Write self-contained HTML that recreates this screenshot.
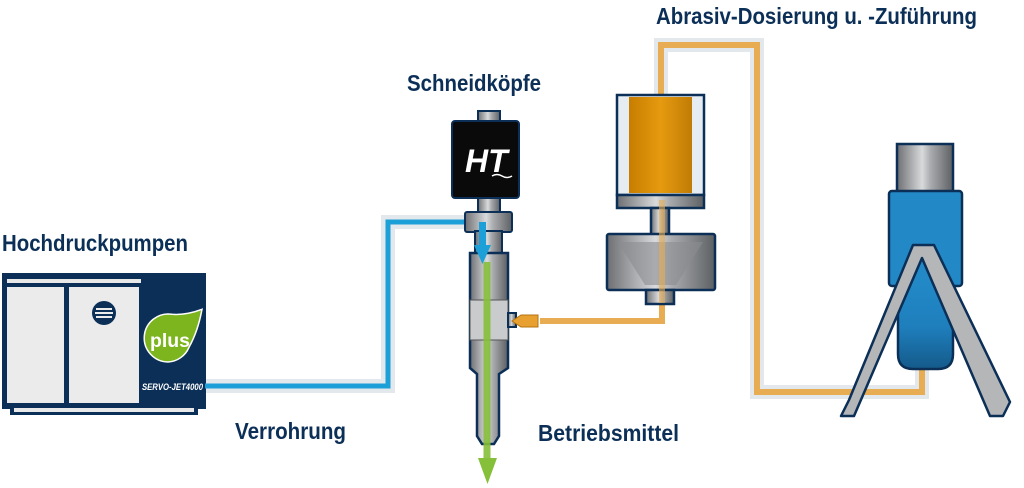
<!DOCTYPE html>
<html><head><meta charset="utf-8"><style>
html,body{margin:0;padding:0;background:#fff;width:1024px;height:488px;overflow:hidden}
svg{display:block}
text{font-family:"Liberation Sans",sans-serif;font-weight:bold;fill:#0b2f57}
</style></head><body>
<svg width="1024" height="488" viewBox="0 0 1024 488">
<defs>
<linearGradient id="met" x1="0" x2="1"><stop offset="0" stop-color="#6d6f72"/><stop offset=".45" stop-color="#d8dadc"/><stop offset=".6" stop-color="#a9abae"/><stop offset="1" stop-color="#5d6063"/></linearGradient>
<linearGradient id="org" x1="0" x2="1"><stop offset="0" stop-color="#c77d00"/><stop offset=".5" stop-color="#e69a10"/><stop offset="1" stop-color="#c07c05"/></linearGradient>
<linearGradient id="blu" x1="0" y1="0" x2="0" y2="1"><stop offset="0" stop-color="#2288c6"/><stop offset=".5" stop-color="#1f7fbd"/><stop offset="1" stop-color="#145a8a"/></linearGradient>
</defs>
<!-- labels -->
<text x="2" y="251" font-size="23" textLength="186" lengthAdjust="spacingAndGlyphs">Hochdruckpumpen</text>
<text x="407" y="91" font-size="23" textLength="134" lengthAdjust="spacingAndGlyphs">Schneidköpfe</text>
<text x="656" y="24" font-size="23" textLength="321" lengthAdjust="spacingAndGlyphs">Abrasiv-Dosierung u. -Zuführung</text>
<text x="235" y="439" font-size="23" textLength="111" lengthAdjust="spacingAndGlyphs">Verrohrung</text>
<text x="538" y="441" font-size="23" textLength="141" lengthAdjust="spacingAndGlyphs">Betriebsmittel</text>

<!-- abrasive pipe halo + line -->
<polyline points="661,95 661,45 757,45 757,392 922,392 922,368" fill="none" stroke="#e2e8ec" stroke-width="14"/>
<polyline points="661,95 661,45 757,45 757,392 922,392 922,368" fill="none" stroke="#e8ad52" stroke-width="6"/>
<!-- water pipe -->
<polyline points="205,386 388,386 388,222 484,222" fill="none" stroke="#e2e8ec" stroke-width="14"/>

<!-- pump -->
<rect x="2" y="273" width="204" height="136" fill="#0b2f57"/>
<rect x="10" y="405" width="188" height="10" fill="#0b2f57"/>
<rect x="14" y="408" width="180" height="4" fill="#e8e8e8"/>
<rect x="7" y="279" width="134" height="4" fill="#e8e8e8"/>
<rect x="7" y="287" width="57" height="116" fill="#ebebeb"/>
<rect x="69" y="287" width="70" height="116" fill="#ebebeb"/>
<circle cx="104" cy="313" r="12" fill="#0b2f57"/>
<rect x="96" y="308" width="16" height="2" fill="#ebebeb"/><rect x="95" y="312" width="18" height="2" fill="#ebebeb"/><rect x="96" y="316" width="16" height="2" fill="#ebebeb"/>
<path d="M168,362 a24,24 0 1 1 4,-47.7 q14,1 30,-5 q-4,22 -13,38 a24,24 0 0 1 -21,14.7z" fill="#7db51e" stroke="#fff" stroke-width="1.5"/>
<text x="150" y="347" font-size="19" textLength="40" lengthAdjust="spacingAndGlyphs" style="fill:#fff">plus</text>
<text x="142" y="390" font-size="9" textLength="61" lengthAdjust="spacingAndGlyphs" style="fill:#fff;font-style:italic">SERVO-JET4000</text>
<polyline points="205,386 388,386 388,222 482,222 482,248" fill="none" stroke="#1da0d8" stroke-width="5"/>

<!-- cutting head -->
<rect x="478" y="111" width="22" height="12" fill="url(#met)" stroke="#0b2f57" stroke-width="2"/>
<rect x="452" y="121" width="67" height="77" rx="3" fill="#0a0a0a" stroke="#0b2f57" stroke-width="2"/>
<text x="465" y="172" font-size="32" style="fill:#fff;font-style:italic">HT</text>
<path d="M492,176 q5,-3 10,0 t10,0" stroke="#fff" fill="none" stroke-width="1.5"/>
<rect x="478" y="198" width="22" height="15" fill="url(#met)" stroke="#0b2f57" stroke-width="2"/>
<rect x="465" y="212" width="47" height="20" rx="2" fill="url(#met)" stroke="#0b2f57" stroke-width="2"/>
<rect x="475" y="231" width="27" height="22" fill="url(#met)" stroke="#0b2f57" stroke-width="2"/>
<path d="M470,253 h38 v115 l-9,6 v62 l-5,8 h-12 l-5,-8 v-62 l-7,-6z" fill="url(#met)" stroke="#0b2f57" stroke-width="2.5"/>
<rect x="470" y="300" width="38" height="40" fill="#c9cbcd" stroke="#555" stroke-width="1"/>
<rect x="508" y="313" width="8" height="14" fill="url(#met)" stroke="#0b2f57" stroke-width="2"/>
<polygon points="479,222 486,222 486,245 491,245 482.5,264 474,245 479,245" fill="#1da0d8"/>
<line x1="487" y1="262" x2="487" y2="460" stroke="#86bf3a" stroke-width="7" opacity=".9"/>
<polygon points="478,458 497,458 487.5,484" fill="#86bf3a"/>
<!-- orange to head -->
<polyline points="540,321 662,321 662,200" fill="none" stroke="#e8ad52" stroke-width="6"/>
<polygon points="512,321 521,315 538,315 538,327 521,327" fill="#e8a030" stroke="#b57510" stroke-width="1"/>

<!-- hopper -->
<rect x="617" y="95" width="87" height="100" fill="#e6edf2" stroke="#0b2f57" stroke-width="2.5"/>
<rect x="629" y="97" width="63" height="96" fill="url(#org)"/>
<rect x="617" y="195" width="87" height="13" fill="url(#met)" stroke="#0b2f57" stroke-width="2.5"/>
<rect x="651" y="208" width="18" height="27" fill="url(#met)" stroke="#0b2f57" stroke-width="2.5"/>
<rect x="607" y="234" width="108" height="56" rx="2" fill="url(#met)" stroke="#0b2f57" stroke-width="2.5"/>
<polygon points="618,242 703,242 676,285 645,285" fill="#8a8c8f" opacity=".6"/>
<rect x="646" y="290" width="28" height="14" fill="url(#met)" stroke="#0b2f57" stroke-width="2.5"/>
<line x1="662" y1="200" x2="662" y2="303" stroke="#e8ad52" stroke-width="6" opacity=".6"/>

<!-- tank -->
<rect x="897" y="144" width="56" height="48" fill="url(#met)" stroke="#0b2f57" stroke-width="2.5"/>
<rect x="889" y="191" width="73" height="95" rx="3" fill="#2289c6" stroke="#0b2f57" stroke-width="2.5"/>
<path d="M898,284 v70 q0,15 15,15 h25 q15,0 15,-15 v-70" fill="url(#blu)" stroke="#0b2f57" stroke-width="2.5"/>
<polygon points="913,245 934,245 1010,402 1003,416 990,416 922,258 854,416 841,416 849,400" fill="#b4b6b8" stroke="#0b2f57" stroke-width="2.5" stroke-linejoin="round"/>
</svg>
</body></html>
